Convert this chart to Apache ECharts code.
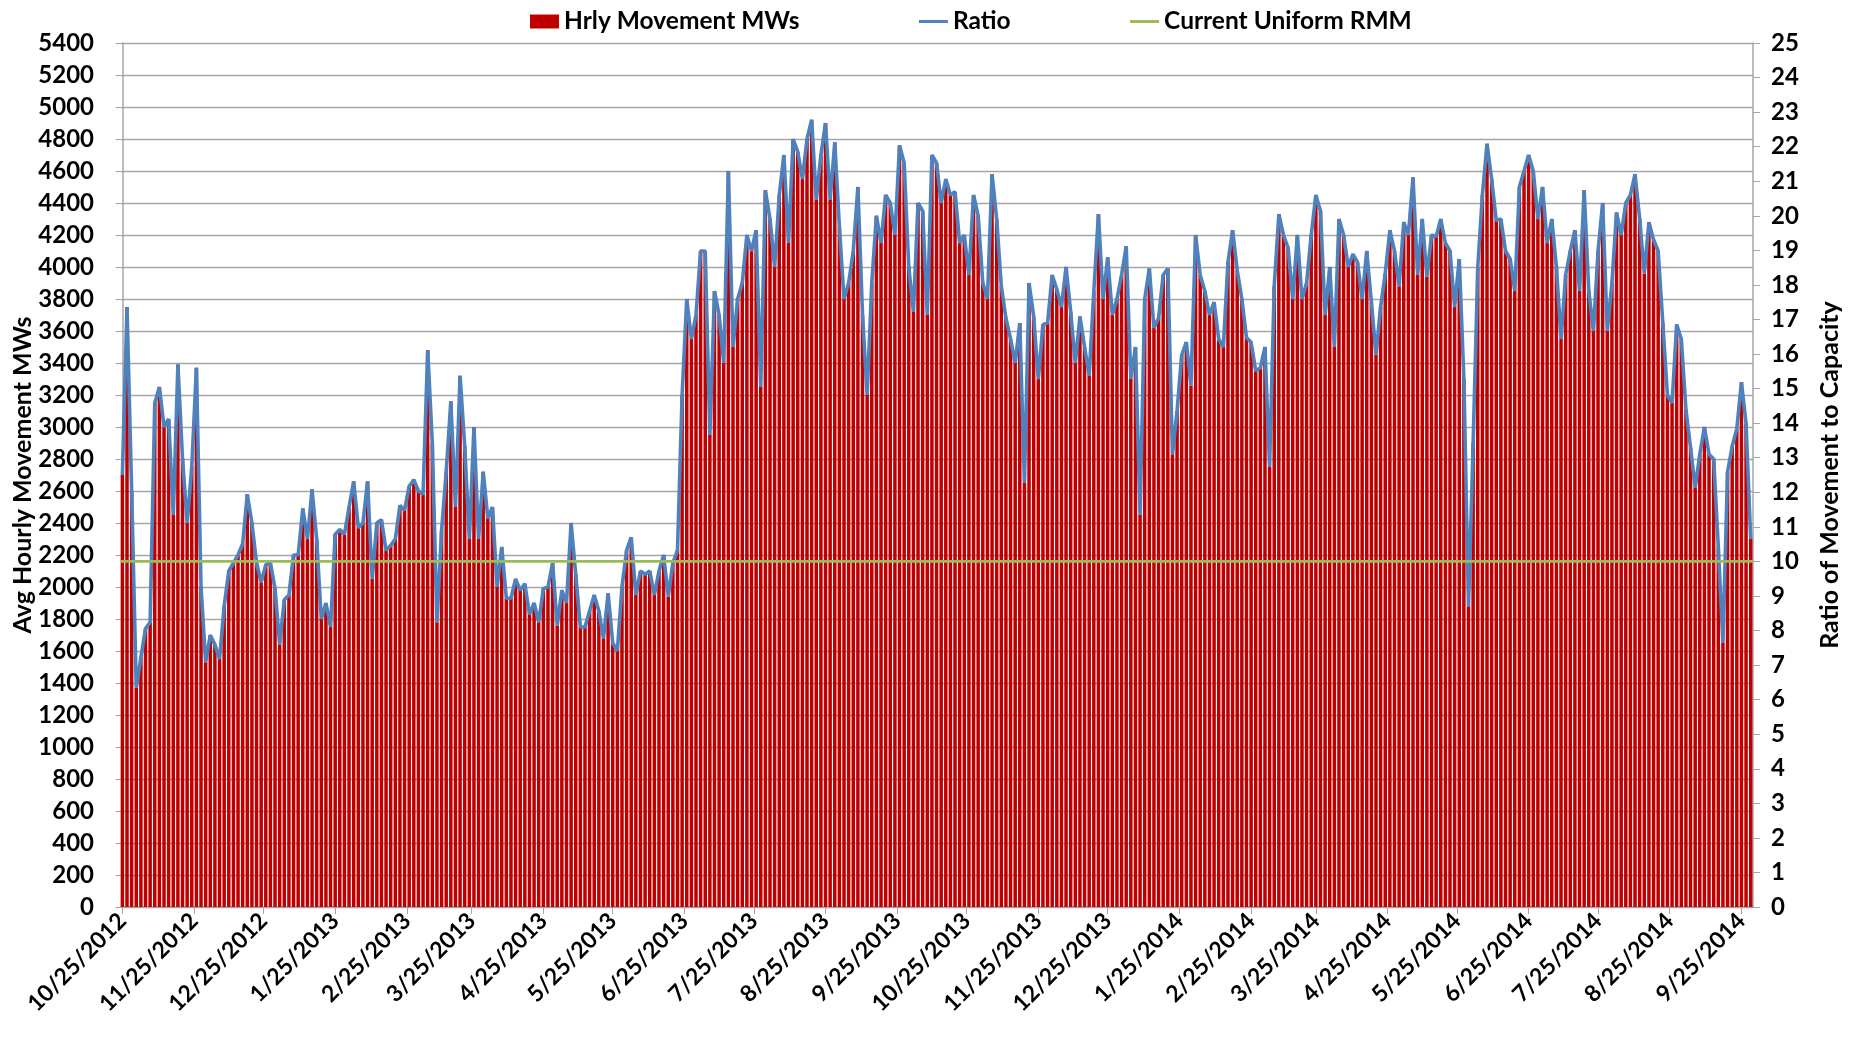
<!DOCTYPE html>
<html lang="en">
<head>
<meta charset="UTF-8">
<title>Hrly Movement MWs / Ratio</title>
<style>
    html, body { margin: 0; padding: 0; background: #fff; }
    #main { width: 1856px; height: 1038px; }
</style>
<script src="https://cdn.jsdelivr.net/npm/echarts@6/dist/echarts.min.js"></script>
</head>
<body>
<div id="main"></div>
<script type="text/javascript">

    // samples every 2 days, first one on 10/25/2012
    var firstDay = '10/25/2012';
    var stepDays = 2;

    // avg hourly movement (MW)
    var hrlyMW = [
        2700,3750,2600,1370,1560,1740,1780,3150,3250,3000,
        3050,2450,3390,2800,2400,2750,3370,2000,1530,1700,
        1640,1550,1880,2100,2150,2200,2270,2580,2400,2150,
        2030,2140,2150,1990,1640,1920,1950,2200,2200,2490,
        2300,2610,2300,1800,1900,1750,2330,2360,2330,2500,
        2660,2370,2400,2660,2050,2400,2420,2230,2260,2300,
        2510,2480,2630,2670,2600,2580,3480,2900,1780,2350,
        2720,3160,2500,3320,2880,2300,3000,2300,2720,2430,
        2500,2000,2250,1930,1930,2050,1980,2020,1830,1900,
        1780,1990,2000,2150,1760,1980,1900,2400,2080,1750,
        1750,1850,1950,1850,1680,1960,1650,1600,2000,2230,
        2310,1950,2100,2080,2100,1950,2100,2200,1940,2150,
        2230,3200,3800,3550,3700,4100,4100,2950,3850,3700,
        3400,4600,3500,3800,3900,4200,4100,4230,3250,4480,
        4300,4000,4450,4700,4150,4800,4720,4550,4800,4920,
        4420,4700,4900,4420,4780,4250,3800,3900,4100,4500,
        3700,3200,3900,4320,4150,4450,4400,4200,4760,4650,
        4000,3720,4400,4350,3700,4700,4650,4400,4550,4450,
        4470,4150,4200,3950,4450,4320,3900,3800,4580,4300,
        3880,3680,3550,3400,3650,2650,3900,3690,3300,3640,
        3650,3950,3860,3750,4000,3720,3400,3690,3500,3320,
        3850,4330,3800,4060,3700,3800,3950,4130,3300,3500,
        2450,3800,3990,3620,3680,3950,3990,2830,3100,3450,
        3530,3260,4200,3950,3850,3700,3780,3550,3500,4030,
        4230,3980,3800,3560,3530,3350,3370,3500,2750,3880,
        4330,4200,4120,3800,4200,3800,3900,4200,4450,4350,
        3700,4000,3500,4300,4200,4000,4080,4030,3800,4100,
        3780,3450,3750,3960,4230,4100,3880,4280,4200,4560,
        3950,4300,3940,4200,4190,4300,4150,4100,3750,4050,
        3300,1880,2900,4000,4450,4770,4550,4290,4300,4100,
        4050,3850,4500,4600,4700,4600,4300,4500,4150,4300,
        4000,3550,3950,4100,4230,3850,4480,3850,3600,4100,
        4400,3600,3900,4340,4200,4400,4450,4580,4300,3960,
        4280,4170,4100,3650,3200,3150,3640,3550,3110,2870,
        2620,2830,3000,2830,2800,2250,1650,2720,2880,2990,
        3280,3020,2300
    ];

    var capacityMW = 216;   // MW per 1.0 of ratio (5400 MW = 25)
    var rmmRatio = 10;      // current uniform RMM

    var tickLabels = [
        '10/25/2012','11/25/2012','12/25/2012','1/25/2013','2/25/2013','3/25/2013',
        '4/25/2013','5/25/2013','6/25/2013','7/25/2013','8/25/2013','9/25/2013',
        '10/25/2013','11/25/2013','12/25/2013','1/25/2014','2/25/2014','3/25/2014',
        '4/25/2014','5/25/2014','6/25/2014','7/25/2014','8/25/2014','9/25/2014'
    ];
    var lastDay = '9/30/2014';

    // x axis is "days since firstDay"
    var DAY = 24 * 3600 * 1000;
    function dayIndex(s) {
        var p = s.split('/');
        var t = Date.UTC(+p[2], +p[0] - 1, +p[1]);
        var p0 = firstDay.split('/');
        return Math.round((t - Date.UTC(+p0[2], +p0[0] - 1, +p0[1])) / DAY);
    }

    var tickValues = tickLabels.map(dayIndex);
    var labelOf = {};
    tickLabels.forEach(function (s, i) { labelOf[tickValues[i]] = s; });

    var mwData = [], ratioData = [];
    hrlyMW.forEach(function (v, i) {
        mwData.push([i * stepDays, v]);
        ratioData.push([i * stepDays, v / capacityMW]);
    });
    var xMin = -0.6;
    var xMax = dayIndex(lastDay);
    var rmmData = [[xMin, rmmRatio], [xMax, rmmRatio]];

    var font = 'Lato';
    var gridGray = '#a6a6a6';
    var blue = '#4f81bd', green = '#9bbb59', red = '#c00000';

    var myChart = echarts.init(document.getElementById('main'));
    var option = {
        animation: false,
        textStyle: { fontFamily: font },
        legend: {
            top: 4,
            left: 525,
            itemGap: 118,
            itemWidth: 29,
            itemHeight: 14,
            textStyle: { fontFamily: font, fontWeight: 'bold', fontSize: 24.5, color: '#000' },
            data: [
                { name: 'Hrly Movement MWs', icon: 'rect' },
                { name: 'Ratio', itemStyle: { opacity: 0 }, lineStyle: { width: 3 } },
                { name: 'Current Uniform RMM', itemStyle: { opacity: 0 }, lineStyle: { width: 3 } }
            ]
        },
        grid: {
            left: 121,
            right: 103,
            top: 43,
            bottom: 131,
            outerBoundsMode: 'none'
        },
        xAxis: {
            type: 'value',
            min: xMin,
            max: xMax,
            axisLine: { lineStyle: { color: gridGray, width: 1.5 } },
            axisTick: { show: true, length: 7, customValues: tickValues, lineStyle: { color: gridGray } },
            splitLine: { show: false },
            axisLabel: {
                customValues: tickValues,
                rotate: 45,
                margin: 10,
                fontFamily: font,
                fontWeight: 'bold',
                fontSize: 23,
                color: '#000',
                formatter: function (val) { return labelOf[Math.round(val)] || ''; }
            }
        },
        yAxis: [{
            type: 'value',
            min: 0,
            max: 5400,
            interval: 200,
            name: 'Avg Hourly Movement MWs',
            nameLocation: 'middle',
            nameGap: 86,
            nameMoveOverlap: false,
            nameTextStyle: { fontFamily: font, fontWeight: 'bold', fontSize: 25, color: '#000' },
            axisLine: { show: true, lineStyle: { color: gridGray, width: 1.5 } },
            axisTick: { show: true, length: 7, lineStyle: { color: gridGray } },
            splitLine: { show: true, lineStyle: { color: gridGray, width: 1.4 } },
            axisLabel: {
                margin: 27, fontFamily: font, fontWeight: 'bold', fontSize: 24, color: '#000',
                formatter: function (v) { return String(v); }
            }
        }, {
            type: 'value',
            min: 0,
            max: 25,
            interval: 1,
            name: 'Ratio of Movement to Capacity',
            nameLocation: 'middle',
            nameGap: 64,
            nameRotate: 90,
            nameTextStyle: { fontFamily: font, fontWeight: 'bold', fontSize: 25, color: '#000' },
            axisLine: { show: true, lineStyle: { color: gridGray, width: 1.5 } },
            axisTick: { show: true, length: 7, lineStyle: { color: gridGray } },
            splitLine: { show: false },
            axisLabel: { margin: 18, fontFamily: font, fontWeight: 'bold', fontSize: 24, color: '#000' }
        }],
        series: [{
            name: 'Hrly Movement MWs',
            type: 'bar',
            yAxisIndex: 0,
            barWidth: 3.5,
            itemStyle: { color: red },
            data: mwData
        }, {
            name: 'Ratio',
            type: 'line',
            yAxisIndex: 1,
            symbol: 'none',
            lineStyle: { color: blue, width: 3.6 },
            itemStyle: { color: blue },
            data: ratioData
        }, {
            name: 'Current Uniform RMM',
            type: 'line',
            yAxisIndex: 1,
            symbol: 'none',
            lineStyle: { color: green, width: 2.8 },
            itemStyle: { color: green },
            data: rmmData
        }]
    };
    myChart.setOption(option);

</script>
</body>
</html>
